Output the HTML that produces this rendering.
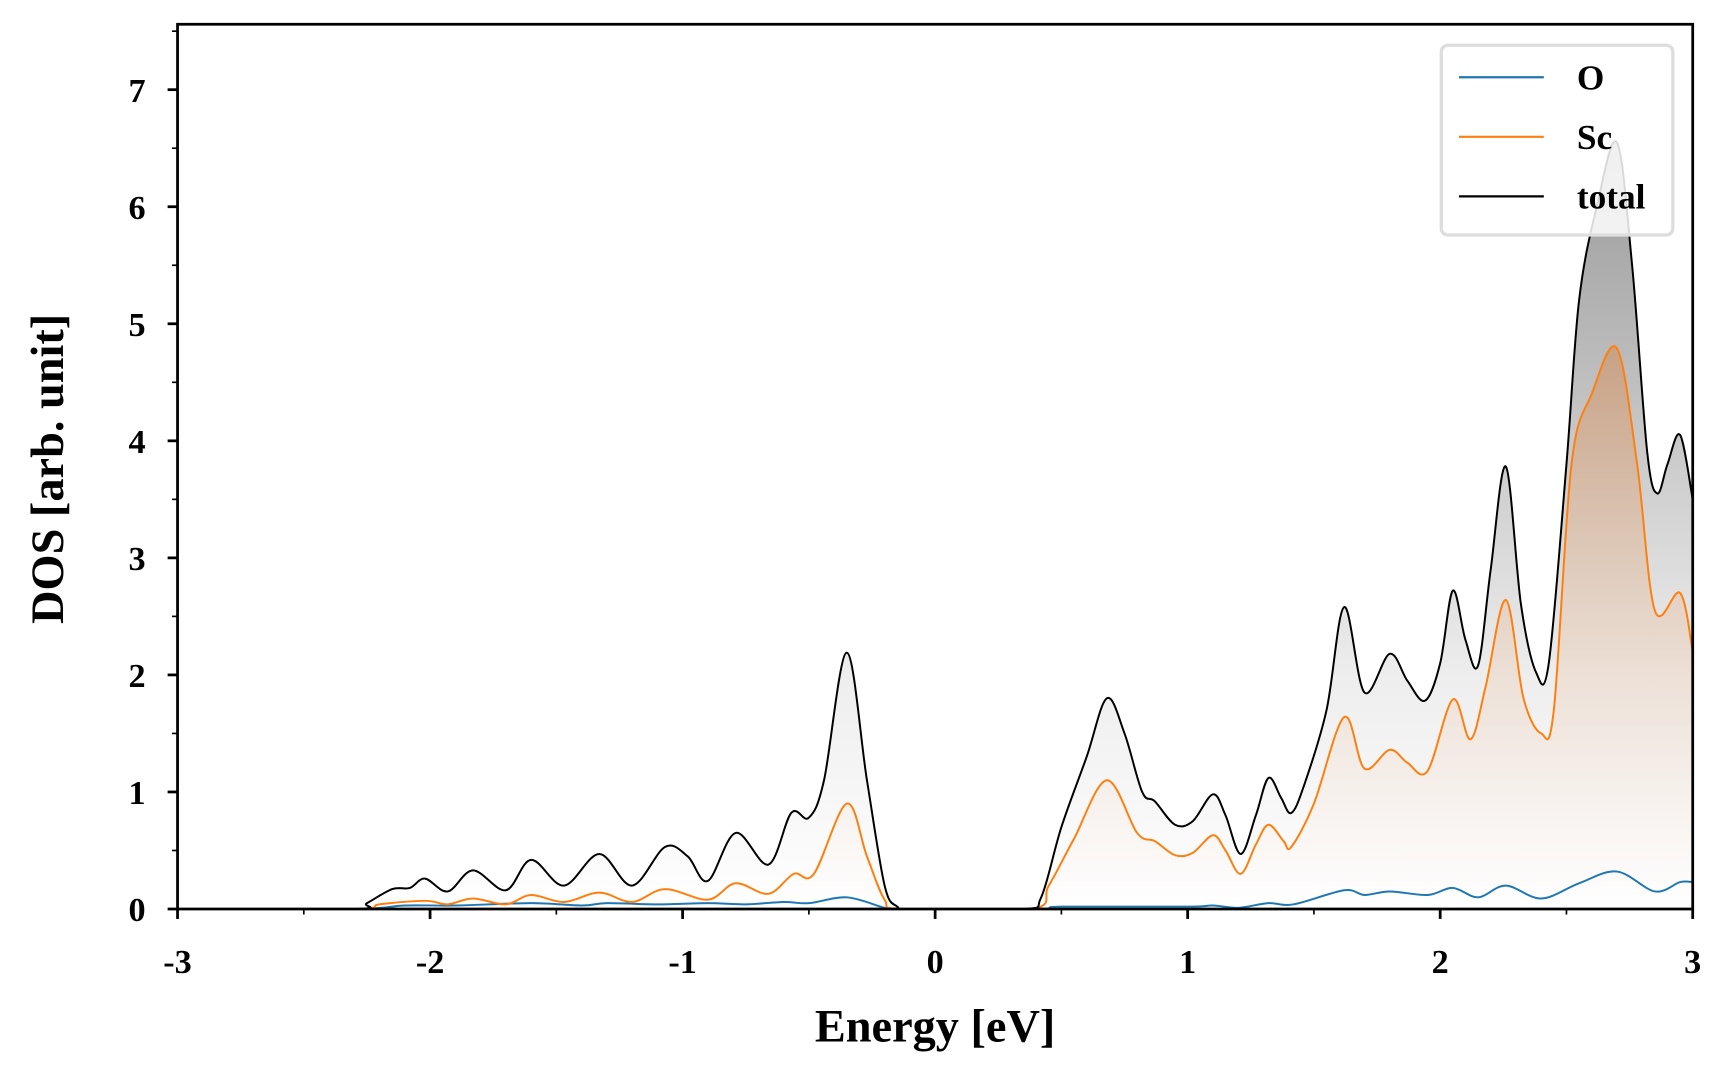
<!DOCTYPE html>
<html><head><meta charset="utf-8"><style>
html,body{margin:0;padding:0;background:#fff;}
svg{display:block;}
text{font-family:"Liberation Serif",serif;font-weight:bold;fill:#000;}
</style></head><body>
<svg id="chart" width="1728" height="1080" viewBox="0 0 1567 979" preserveAspectRatio="none" xmlns="http://www.w3.org/2000/svg">
<defs>
<linearGradient id="gTot" x1="0" y1="1" x2="0" y2="0"><stop offset="0" stop-color="#ffffff"/><stop offset="0.3" stop-color="#eeeeee"/><stop offset="1" stop-color="#999999"/></linearGradient>
<linearGradient id="gSc" x1="0" y1="1" x2="0" y2="0"><stop offset="0" stop-color="#ffffff" stop-opacity="0.4"/><stop offset="1" stop-color="#d09060" stop-opacity="0.6"/></linearGradient>
<clipPath id="plotClip"><rect x="161" y="22" width="1374" height="802"/></clipPath>
</defs>
<g id="fills" clip-path="url(#plotClip)"></g>
<g id="lines" clip-path="url(#plotClip)"></g>
<g id="axes"></g>
<text x="848" y="944" font-size="42" text-anchor="middle">Energy [eV]</text>
<text transform="translate(57,425) rotate(-90)" font-size="42" text-anchor="middle">DOS [arb. unit]</text>
<g>
<rect x="1307" y="41" width="210" height="172" rx="6" fill="#fff" fill-opacity="0.85" stroke="#dddddd" stroke-width="3"/>
<line x1="1323" y1="70" x2="1400" y2="70" stroke="#1f77b4" stroke-width="2"/>
<text x="1430" y="81" font-size="32">O</text>
<line x1="1323" y1="124" x2="1400" y2="124" stroke="#ff7f0e" stroke-width="2"/>
<text x="1430" y="135" font-size="32">Sc</text>
<line x1="1323" y1="178" x2="1400" y2="178" stroke="#000" stroke-width="2"/>
<text x="1430" y="189" font-size="32">total</text>
</g>
</svg>
<script>
const totalE=[-3,-2.3,-2.25,-2.15,-2.08,-2.02,-1.93,-1.83,-1.7,-1.6,-1.47,-1.33,-1.2,-1.07,-0.98,-0.9,-0.79,-0.66,-0.57,-0.5,-0.44,-0.35,-0.27,-0.2,-0.15,-0.1,0.35,0.42,0.5,0.6,0.68,0.75,0.82,0.87,0.95,1.02,1.1,1.15,1.21,1.27,1.32,1.37,1.41,1.46,1.55,1.62,1.7,1.8,1.87,1.94,2.0,2.05,2.1,2.15,2.2,2.26,2.32,2.38,2.43,2.5,2.55,2.62,2.7,2.76,2.82,2.86,2.9,2.95,3.0];
const totalV=[0,0,0.05,0.17,0.18,0.26,0.15,0.33,0.16,0.42,0.2,0.47,0.2,0.53,0.45,0.24,0.65,0.38,0.82,0.78,1.1,2.19,1.1,0.2,0.02,0,0,0.1,0.7,1.3,1.8,1.5,1.0,0.92,0.72,0.75,0.98,0.8,0.47,0.8,1.12,0.95,0.82,1.05,1.7,2.58,1.85,2.18,1.95,1.78,2.1,2.72,2.3,2.08,2.9,3.78,2.6,2.02,2.1,3.8,5.2,6.0,6.55,5.5,3.9,3.55,3.8,4.05,3.5];
const scE=[-3,-2.3,-2.2,-2.02,-1.93,-1.83,-1.7,-1.6,-1.47,-1.33,-1.2,-1.07,-0.9,-0.79,-0.66,-0.56,-0.48,-0.35,-0.27,-0.2,-0.13,0.38,0.45,0.55,0.68,0.8,0.87,0.95,1.02,1.1,1.15,1.21,1.27,1.32,1.38,1.41,1.5,1.62,1.7,1.8,1.87,1.95,2.05,2.12,2.18,2.26,2.33,2.4,2.45,2.52,2.6,2.7,2.78,2.85,2.95,3.0];
const scV=[0,0,0.04,0.07,0.04,0.09,0.04,0.12,0.06,0.14,0.06,0.17,0.08,0.22,0.13,0.3,0.3,0.9,0.45,0.08,0,0,0.2,0.6,1.1,0.65,0.58,0.46,0.48,0.63,0.5,0.3,0.55,0.72,0.58,0.53,0.9,1.64,1.2,1.36,1.25,1.18,1.79,1.45,1.9,2.64,1.8,1.5,1.7,3.8,4.4,4.79,3.8,2.55,2.7,2.2];
const oE=[-3,-2.3,-2.1,-1.9,-1.6,-1.4,-1.3,-1.1,-0.9,-0.75,-0.6,-0.5,-0.35,-0.2,-0.15,0.4,0.5,1.0,1.1,1.2,1.32,1.42,1.62,1.7,1.8,1.95,2.05,2.15,2.26,2.4,2.55,2.7,2.85,2.95,3.0];
const oV=[0,0,0.03,0.03,0.05,0.03,0.05,0.04,0.05,0.04,0.06,0.05,0.1,0.01,0,0,0.02,0.02,0.03,0.01,0.05,0.04,0.16,0.12,0.15,0.12,0.18,0.1,0.2,0.09,0.22,0.32,0.15,0.23,0.23];
const xTicks=[-3,-2,-1,0,1,2,3];
const yTicks=[0,1,2,3,4,5,6,7];

const X0=161,X1=1535,Y0=824;
const xs=e=>X0+(e+3)/6*(X1-X0);
const ys=v=>Y0-v*106.1;
function path(E,V){
  const p=E.map((e,i)=>[xs(e),ys(V[i])]);
  let d='M'+p[0][0]+','+p[0][1];
  for(let i=0;i<p.length-1;i++){
    const a=p[Math.max(0,i-1)],b=p[i],c=p[i+1],n=p[Math.min(p.length-1,i+2)];
    let c1y=b[1]+(c[1]-a[1])/6,c2y=c[1]-(n[1]-b[1])/6;
    c1y=Math.min(c1y,Y0);c2y=Math.min(c2y,Y0);
    d+=` C${b[0]+(c[0]-a[0])/6},${c1y} ${c[0]-(n[0]-b[0])/6},${c2y} ${c[0]},${c[1]}`;
  }
  return d;
}
const NS='http://www.w3.org/2000/svg';
function mk(tag,attrs,parent){const el=document.createElementNS(NS,tag);for(const k in attrs)el.setAttribute(k,attrs[k]);parent.appendChild(el);return el;}
const fills=document.getElementById('fills'),lines=document.getElementById('lines'),axes=document.getElementById('axes');
const ft=mk('path',{d:path(totalE,totalV)+` L${xs(3)},${Y0} L${xs(-3)},${Y0} Z`,fill:'url(#gTot)'},fills);


const fs=mk('path',{d:path(scE,scV)+` L${xs(3)},${Y0} L${xs(-3)},${Y0} Z`,fill:'url(#gSc)'},fills);


const lo=mk('path',{d:path(oE,oV),fill:'none',stroke:'#1f77b4','stroke-width':1.8},lines);


const ls=mk('path',{d:path(scE,scV),fill:'none',stroke:'#ff7f0e','stroke-width':1.8},lines);


const lt=mk('path',{d:path(totalE,totalV),fill:'none',stroke:'#000','stroke-width':1.8},lines);


const fr=mk('rect',{x:X0,y:22,width:X1-X0,height:Y0-22,fill:'none',stroke:'#000','stroke-width':2.5},axes);


for(let e=-3;e<=3.001;e+=0.5){
  const major=Math.abs(e-Math.round(e))<1e-6;
  mk('line',{x1:xs(e),y1:Y0,x2:xs(e),y2:Y0+(major?9:5),stroke:'#000','stroke-width':major?2.5:1.5},axes);
}
for(let v=0;v<=7.5;v+=0.5){
  const major=Math.abs(v-Math.round(v))<1e-6;
  mk('line',{x1:X0,y1:ys(v),x2:X0-(major?9:5),y2:ys(v),stroke:'#000','stroke-width':major?2.5:1.5},axes);
}
xTicks.forEach(t=>{
  const el=mk('text',{x:xs(t),y:882,'font-size':31,'text-anchor':'middle'},axes);
  el.textContent=t;
  
  
});
yTicks.forEach(t=>{
  const el=mk('text',{x:132,y:ys(t)+11,'font-size':31,'text-anchor':'end'},axes);
  el.textContent=t;
  
  
});
</script>
</body></html>
